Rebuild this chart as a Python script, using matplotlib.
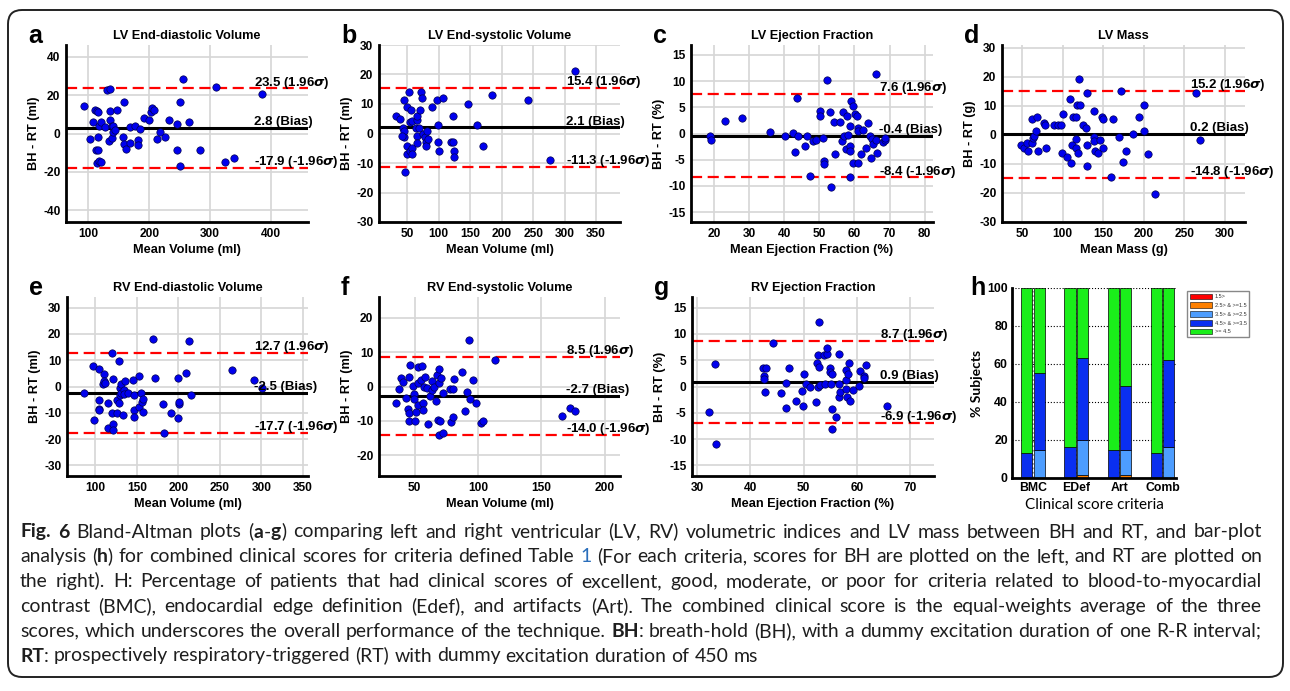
import numpy as np
import matplotlib.pyplot as plt
from matplotlib.patches import FancyBboxPatch, Patch
from matplotlib.transforms import blended_transform_factory, IdentityTransform

plt.rcParams['font.family'] = ['Liberation Sans', 'DejaVu Sans']
plt.rcParams['font.weight'] = 'bold'
plt.rcParams['axes.titleweight'] = 'bold'
plt.rcParams['axes.labelweight'] = 'bold'
plt.rcParams['axes.unicode_minus'] = False
plt.rcParams['mathtext.fontset'] = 'dejavusans'

# ---- data ----
# a: LV end-diastolic volume
lvedv_mean = [92, 102, 108, 111, 114, 115, 112, 116, 117, 116, 114, 117, 120, 120, 127, 131, 136,
              136, 136, 138, 140, 134, 138, 141, 143, 147, 159, 156, 158, 161, 168, 169, 177, 181,
              181, 185, 191, 200, 202, 205, 207, 213, 218, 226, 232, 246, 246, 251, 251, 255, 266,
              284, 310, 324, 339, 386]
lvedv_diff = [14.3, -2.9, 6, 12.4, 11.9, 11.2, -8.8, -8.8, 4.1, -1.7, -15.5, -14.3, -14.8, 6.2, 3.3,
              22.4, 23.3, 11.9, 7.2, 4.1, 4.1, -3.8, -2.1, 1, 1.7, 12, 16.4, -1.6, -5.7, -7.9, -4.8,
              3.3, 4, -3.6, -5.9, 2.2, 8.1, 7.1, 11.2, 13.3, 12.2, -2.8, 1, -1.6, 7.2, 5, -8.8, 16.4,
              -16.7, 28.3, 6.2, -8.8, 24.3, -14.8, -12.9, 20.3]
lvedv_stats = (23.5, 2.8, -17.9)

# b: LV end-systolic volume
lvesv_mean = [32, 39, 45, 43, 45, 49, 52, 45, 41, 49, 49, 47, 54, 58, 58, 56, 54, 57, 64, 65, 66, 66,
              65, 70, 72, 74, 68, 75, 78, 79, 80, 82, 83, 90, 97, 107, 98, 98, 101, 120, 123, 123,
              124, 124, 146, 160, 171, 185, 241, 277, 317]
lvesv_diff = [6, 4.8, -1.2, 2, 11.4, 9.1, 14.1, 0.9, -0.8, -4.1, -6.9, -13.1, -6.1, -5, -6.9, 8.1,
              3.9, 4.4, 1.8, 4.6, 6, -1, -3.2, 8.1, 14.1, 12.2, 1.8, -0.1, -1.2, -2.9, -4.1, 0.9, -2,
              9.1, 11.2, 12.2, 2.9, -2.9, -6.1, -2.9, -3, 6, -6.1, -8, 10.1, 2.9, -4.1, 13.2, 11.2,
              -9, 21.2]
lvesv_stats = (15.4, 2.1, -11.3)

# c: LV ejection fraction
lvef_mean = [18.8, 19, 23.1, 27.8, 36, 40.2, 42.5, 43.1, 43.7, 43.8, 45.9, 46.4, 47.4, 48.2, 49.1,
             50.3, 50.3, 51, 51.3, 51.2, 52.3, 52.9, 53.4, 54.2, 54.4, 55.8, 56.5, 56.7, 57, 57.7,
             58, 58.2, 58.6, 58.8, 58.6, 58.9, 59.6, 58.6, 59.6, 60.1, 60.8, 60.9, 60.9, 61.1,
             61.8, 62.4, 63.4, 63.9, 64.4, 64.6, 65.1, 65.4, 66.1, 66.2, 66.4, 68.1, 68.6, 68.8]
lvef_diff = [-0.4, -1.2, 2.4, 2.9, 0.2, -0.4, 0.1, -3.5, 6.8, -0.4, -2.4, -0.4, -8.2, -1.5, -1.2,
             4.3, 3.4, -0.9, -5.3, -5.9, 10.2, 4.2, -10.2, 2.2, -3.9, 2.2, -1.5, 4.2, -0.5, -2.9,
             3.4, -0.3, -2.3, 1.4, -3.4, 6.3, 5.3, -8.4, -5.7, 3.7, 3.4, -5.7, 1, 0.5, -4, 0.7,
             -2.8, 2.1, -0.5, -4.6, -1, -2.1, 11.3, -1.2, -3.8, -1.7, -1.3, -0.9]
lvef_stats = (7.6, -0.4, -8.4)

# d: LV mass
lvm_mean = [48, 52, 56, 57, 61.5, 62, 63, 64, 67, 68, 69, 77, 77.5, 79, 89, 94, 98, 100, 99, 105,
            109, 110, 111, 113, 116, 116, 116, 118, 119, 120, 121, 125, 129, 130, 130, 130, 138,
            138, 139, 140, 144, 146, 148, 150, 150, 159, 162, 170, 172, 174, 178, 187, 194, 200,
            200, 205, 214, 264, 269]
lvm_diff = [-3.6, -4.7, -2.8, -5.6, 5.3, -2.8, -1.1, -0.5, 1.4, 6.2, -5.6, 4.1, 3.3, -4.7, 3.3,
            3.3, 3.3, 7.1, -6.4, -7.6, 12.2, -9.7, -3.6, 6.2, 6.2, -1.6, -4.6, 10.2, -6.4, 19.2,
            10.2, 3.3, 2.2, 14.3, -3.4, -10.7, 8.3, -0.9, -2.1, -5.6, -6.4, -1.8, 6.2, 5.3, -4.6,
            -14.5, 5.3, -0.7, 15.2, -9.5, -5.6, 0.2, 6.2, 10.2, 1.3, -6.7, -20.5, 14.3, -1.7]
lvm_stats = (15.2, 0.2, -14.8)

# e: RV end-diastolic volume
rvedv_mean = [86, 97, 99, 105, 104, 105, 105, 110, 109, 111, 112, 115, 115, 120, 121, 120, 121,
              121, 126, 126, 128, 129, 130, 130, 131, 131, 133, 135, 136, 135, 140, 146, 147, 147,
              147, 153, 153, 155, 156, 157, 158, 170, 172, 182, 183, 191, 199, 200, 201, 201, 209,
              213, 215, 265, 291, 301]
rvedv_diff = [-2.5, 7.8, -12.7, 6.6, -5.3, -8.6, -9.1, 4.7, 0.9, 2.2, 1.3, -6.1, -15.9, 12.7, 2.8,
              -10.1, -14.2, -16.5, -10.1, -5.1, -6.3, 9.5, -0.6, -3.2, 0.8, -2.5, -11, -1.5, 1.9,
              -2.9, -2.5, 2.3, -3.2, -9.1, -11.4, 4.1, -7.6, -2.5, -5.7, -9.6, -4.7, 18, 3.2, -6.7,
              -17.5, -10, 3.4, -12, -6.6, -5.7, 5.1, 17.3, -3.2, 6.1, 2.3, -0.6]
rvedv_stats = (12.7, -2.5, -17.7)

# f: RV end-systolic volume
rvesv_mean = [35.6, 37.4, 39.2, 40.6, 43.4, 44.5, 45.5, 45.3, 45.8, 46.1, 48.7, 49.2, 49.7, 50.5,
              51, 52.4, 53.1, 53.1, 55.2, 56, 56.3, 56.3, 57.1, 58.4, 59.7, 60.5, 62.3, 63.6, 63.9,
              65.5, 67, 67.6, 69, 69, 71, 69.4, 72.8, 72.6, 68.9, 70.2, 78.1, 78.8, 80.7, 81.2,
              80.7, 87.8, 89.9, 91.2, 93, 93.8, 96.4, 98.3, 102.2, 104.3, 113.7, 166.4, 172.5, 176.4]
rvesv_diff = [-4.8, -0.6, 2.5, 1.3, -3.3, -6.4, -7.7, -10.1, 2.7, 6.3, 0.2, -2.1, -3.6, -10.1,
              -7.5, 5.8, 1, -5.4, 1.8, 6, -4.8, -6.7, 0, 2.7, -0.5, -11, -2.8, -1.1, 1.5, 0, -4.3,
              3.4, 1, 5.1, 2.5, -14.2, -13.4, -1.9, -9.6, -10.1, -0.6, -10.4, -0.6, 2.2, -8.8, 4.1,
              -7.1, -1.7, 13.5, -3.6, 2, -4.8, -10.6, -10.1, 7.8, -8.6, -6.2, -7]
rvesv_stats = (8.5, -2.7, -14.0)

# g: RV ejection fraction
rvef_mean = [32.3, 33.4, 33.6, 42.4, 42.9, 42.6, 42.6, 42.8, 44.3, 45.8, 46.7, 47.3, 46.7, 48.6,
             49.8, 49.9, 50.1, 50.5, 51.3, 52.4, 52.5, 52.7, 52.9, 52.9, 52.8, 53.1, 53.8, 54,
             54.4, 54.5, 54.9, 55, 55.1, 55.3, 55.4, 55.3, 56.1, 56.6, 56.6, 56.7, 56.9, 57.9,
             57.9, 57.9, 58.1, 58.3, 58.6, 58.8, 59.2, 60.4, 60.6, 61.3, 61.4, 61.8, 65.6]
rvef_diff = [-4.9, 4.3, -10.9, 3.5, 3.5, 2, 1.4, -1.1, 8.2, -1.3, 0.6, 3.5, -4, -2.7, -0.8, -3.7,
             2.3, 0.4, 0, -3, 4.4, 5.9, 12.2, 3.7, -0.1, 0.3, 5.9, 0.4, 6.2, 7.3, 3.6, 2.8, 0.5,
             2.4, -4.3, -8.1, -5.8, 6.1, 0.5, -1.9, -1.1, -0.5, 3.2, 1.3, -1.9, 2.4, 4.4, -2.7,
             -0.6, 0.1, 3, 1.9, 1.7, 4.1, -3.7]
rvef_stats = (8.7, 0.9, -6.9)

# h: clinical scores (% subjects per score class)
criteria = ['BMC', 'EDef', 'Art', 'Comb']
score_labels = ['1.5>', '2.5> & >=1.5', '3.5> & >=2.5', '4.5> & >=3.5', '>= 4.5']
bh_scores = np.array([[0, 0, 0, 13.2, 86.8],
                      [0, 0, 0, 16.1, 83.9],
                      [0, 0, 0, 14.9, 85.1],
                      [0, 0, 0, 13.2, 86.8]])
rt_scores = np.array([[0, 0, 14.9, 40.4, 44.7],
                      [0, 1.7, 18.1, 43.5, 36.7],
                      [0, 1.7, 13.2, 33.5, 51.6],
                      [0, 0, 16.1, 45.8, 38.1]])
score_colors = ['#ff0000', '#ff8000', '#4d9dff', '#0a2ff0', '#1aee1a']

W, H = 1290, 691
fig = plt.figure(figsize=(W / 100, H / 100), dpi=100)


def px_axes(left, top, right, bottom):
    return fig.add_axes([left / W, 1 - bottom / H, (right - left) / W, (bottom - top) / H])


def bold_ticks(ax):
    for lab in ax.get_xticklabels() + ax.get_yticklabels():
        lab.set_fontweight('bold')


def ba_panel(box, letter, title, xlabel, ylabel, xm, yd, stats, xlim, ylim, xticks, yticks):
    ax = px_axes(*box)
    ax.set_xlim(xlim)
    ax.set_ylim(ylim)
    ax.set_xticks(xticks)
    ax.set_yticks(yticks)
    ax.grid(True, color='#d6d6d6', lw=1.2)
    ax.set_axisbelow(True)
    for s in ['top', 'right']:
        ax.spines[s].set_visible(False)
    for s in ['left', 'bottom']:
        ax.spines[s].set_linewidth(2)
    ax.tick_params(length=0, labelsize=8.6, pad=4)
    bold_ticks(ax)
    upper, bias, lower = stats
    ax.axhline(upper, color='red', lw=1.6, ls=(0, (5, 2.5)), zorder=2)
    ax.axhline(lower, color='red', lw=1.6, ls=(0, (5, 2.5)), zorder=2)
    ax.axhline(bias, color='black', lw=2.2, zorder=2)
    ax.scatter(xm, yd, s=28, c='#0000ee', edgecolors='#000050', linewidths=0.5, zorder=3)
    tr = blended_transform_factory(ax.transAxes, ax.transData)
    for val, lab in [(upper, f'{upper:.1f} (1.96$\\sigma$)'),
                     (bias, f'{bias:.1f} (Bias)'),
                     (lower, f'{lower:.1f} (-1.96$\\sigma$)')]:
        ax.annotate(lab, xy=(0.775, val), xycoords=tr, xytext=(0, 2), textcoords='offset points',
                    fontsize=9.5, fontweight='bold', va='baseline', ha='left',
                    annotation_clip=False, zorder=4)
    ax.set_title(title, fontsize=9.2, fontweight='bold', pad=4)
    ax.set_xlabel(xlabel, fontsize=9.2, fontweight='bold', labelpad=3)
    ax.set_ylabel(ylabel, fontsize=9.2, fontweight='bold', labelpad=2)
    fig.text((box[0] - 38) / W, 1 - (box[1] - 2) / H, letter, fontsize=18, fontweight='bold',
             va='baseline')
    return ax


ba_panel((66, 45, 308, 222), 'a', 'LV End-diastolic Volume', 'Mean Volume (ml)', 'BH - RT (ml)',
         lvedv_mean, lvedv_diff, lvedv_stats, (63, 461), (-46, 46),
         [100, 200, 300, 400], [-40, -20, 0, 20, 40])
ba_panel((379, 45, 620, 222), 'b', 'LV End-systolic Volume', 'Mean Volume (ml)', 'BH - RT (ml)',
         lvesv_mean, lvesv_diff, lvesv_stats, (5, 388), (-30, 30),
         range(50, 351, 50), range(-30, 31, 10))
ba_panel((691, 45, 933, 222), 'c', 'LV Ejection Fraction', 'Mean Ejection Fraction (%)', 'BH - RT (%)',
         lvef_mean, lvef_diff, lvef_stats, (13.4, 82.4), (-16.9, 16.9),
         range(20, 81, 10), range(-15, 16, 5))
ba_panel((1002, 45, 1245, 222), 'd', 'LV Mass', 'Mean Mass (g)', 'BH - RT (g)',
         lvm_mean, lvm_diff, lvm_stats, (25, 325), (-30.1, 30.9),
         range(50, 301, 50), range(-30, 31, 10))
ba_panel((67, 297, 308, 476), 'e', 'RV End-diastolic Volume', 'Mean Volume (ml)', 'BH - RT (ml)',
         rvedv_mean, rvedv_diff, rvedv_stats, (66, 356), (-34, 34),
         range(100, 351, 50), range(-30, 31, 10))
ba_panel((379, 297, 620, 476), 'f', 'RV End-systolic Volume', 'Mean Volume (ml)', 'BH - RT (ml)',
         rvesv_mean, rvesv_diff, rvesv_stats, (22, 212), (-26, 26),
         [50, 100, 150, 200], [-20, -10, 0, 10, 20])
ba_panel((692, 297, 934, 476), 'g', 'RV Ejection Fraction', 'Mean Ejection Fraction (%)', 'BH - RT (%)',
         rvef_mean, rvef_diff, rvef_stats, (29.06, 74.5), (-17, 17),
         range(30, 71, 10), range(-15, 16, 5))

# ---- h: stacked bars ----
axh = px_axes(1012, 288, 1176, 478)
xpos = np.arange(1, len(criteria) + 1)
for scores, off in [(bh_scores, -0.145), (rt_scores, 0.145)]:
    bottom = np.zeros(len(criteria))
    for k, color in enumerate(score_colors):
        axh.bar(xpos + off, scores[:, k], 0.26, bottom=bottom, color=color,
                edgecolor='black', linewidth=0.5, zorder=2)
        bottom += scores[:, k]
axh.set_xlim(0.515, 4.31)
axh.set_ylim(0, 100)
axh.set_yticks(range(0, 101, 20))
axh.set_xticks(xpos)
axh.set_xticklabels(criteria)
axh.yaxis.grid(True, ls=':', color='black', lw=0.8)
axh.xaxis.grid(True, ls=':', color='#888888', lw=1.2)
axh.set_axisbelow(True)
for s in ['top', 'right']:
    axh.spines[s].set_visible(False)
for s in ['left', 'bottom']:
    axh.spines[s].set_linewidth(2)
axh.tick_params(length=0, labelsize=8.8, pad=3)
bold_ticks(axh)
axh.set_ylabel('% Subjects', family='Lato', fontsize=10, fontweight='bold', labelpad=3)
axh.set_xlabel('Clinical score criteria', family='Lato', fontsize=11, fontweight='normal', labelpad=3)
fig.text(970 / W, 1 - 295 / H, 'h', fontsize=18, fontweight='bold', va='baseline')

handles = [Patch(facecolor=c, edgecolor='black', linewidth=0.4) for c in score_colors]
fig.legend(handles, score_labels, loc='upper left', bbox_to_anchor=(1184 / W, 1 - 288 / H),
           prop={'size': 4, 'weight': 'normal'}, handlelength=4, handleheight=1.2,
           labelspacing=0.55, borderpad=0.5, handletextpad=0.5, fancybox=False,
           edgecolor='#888888', framealpha=1, labelcolor='#333333')

# ---- frame ----
frame = FancyBboxPatch((8, H - 677), 1275, 667, boxstyle='round,pad=0,rounding_size=14',
                       transform=IdentityTransform(), fill=False, lw=1.4, edgecolor='#222222')
fig.add_artist(frame)

# ---- caption ----
N, B = 'normal', 'bold'
caption_lines = [
    [('Fig. 6', B), (' Bland-Altman plots (', N), ('a', B), ('-', N), ('g', B),
     (') comparing left and right ventricular (LV, RV) volumetric indices and LV mass between BH and RT, and bar-plot', N)],
    [('analysis (', N), ('h', B), (') for combined clinical scores for criteria defined Table ', N), ('1', 'link'),
     (' (For each criteria, scores for BH are plotted on the left, and RT are plotted on', N)],
    [('the right). H: Percentage of patients that had clinical scores of excellent, good, moderate, or poor for criteria related to blood-to-myocardial', N)],
    [('contrast (BMC), endocardial edge definition (Edef), and artifacts (Art). The combined clinical score is the equal-weights average of the three', N)],
    [('scores, which underscores the overall performance of the technique. ', N), ('BH', B),
     (': breath-hold (BH), with a dummy excitation duration of one R-R interval;', N)],
    [('RT', B), (': prospectively respiratory-triggered (RT) with dummy excitation duration of 450 ms', N)],
]

renderer = fig.canvas.get_renderer()
cap_left, cap_right = 20, 1262
cap_family = 'Lato'


def cap_text(s, style, size):
    weight = 'bold' if style == B else 'normal'
    color = '#2a6ebb' if style == 'link' else '#1e1e1e'
    return fig.text(0, 0, s, family=cap_family, fontsize=size, fontweight=weight, color=color,
                    va='baseline', ha='left')


def natural_width(segs, size):
    t = cap_text(''.join(s for s, _ in segs), N, size)
    w = t.get_window_extent(renderer).width
    t.remove()
    return w


# pick the caption size so the widest line just fits the text block
widest = max(natural_width(segs, 12) for segs in caption_lines[:-1])
cap_size = 12 * 0.99 * (cap_right - cap_left) / widest

probe = cap_text('a a', N, cap_size)
w2 = probe.get_window_extent(renderer).width
probe.set_text('aa')
space_w = w2 - probe.get_window_extent(renderer).width
probe.remove()

for i, segs in enumerate(caption_lines):
    words = [[]]
    for s, style in segs:
        for j, chunk in enumerate(s.split(' ')):
            if j > 0:
                words.append([])
            if chunk:
                words[-1].append((chunk, style))
    words = [w for w in words if w]
    placed = []
    total = 0
    for w in words:
        items = []
        for chunk, style in w:
            t = cap_text(chunk, style, cap_size)
            cw = t.get_window_extent(renderer).width
            items.append((t, cw))
            total += cw
        placed.append(items)
    if i < len(caption_lines) - 1:
        gap = (cap_right - cap_left - total) / (len(words) - 1)
    else:
        gap = space_w
    y = H - (537.5 + 24.8 * i)
    x = cap_left
    for items in placed:
        for t, cw in items:
            t.set_position((x / W, y / H))
            x += cw
        x += gap

fig.savefig('out.png', dpi=100)
